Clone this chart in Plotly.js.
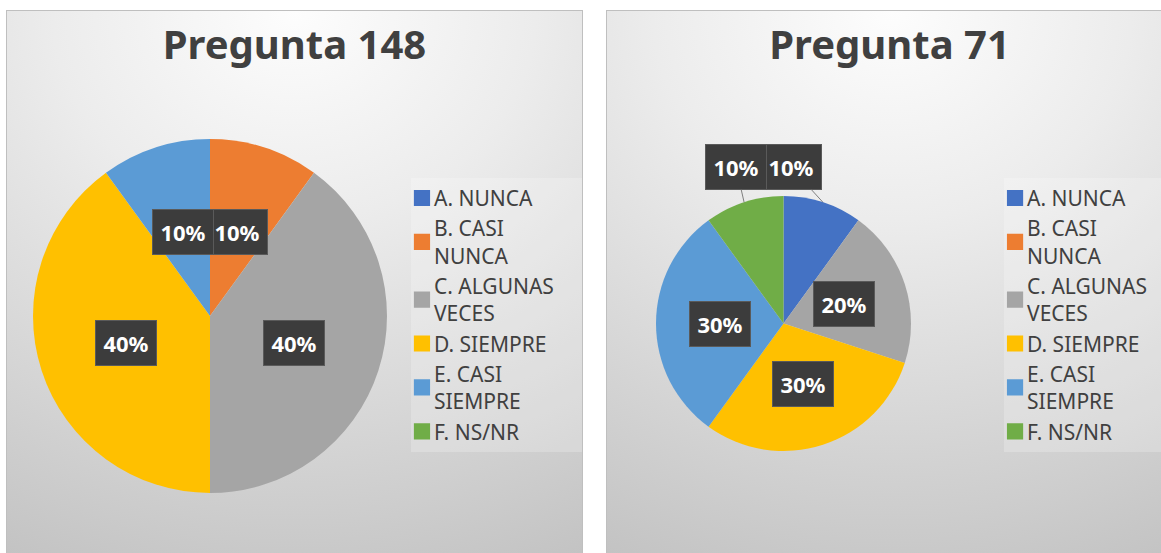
<!DOCTYPE html>
<html>
<head>
<meta charset="utf-8">
<script src="https://cdn.plot.ly/plotly-3.0.1.min.js"></script>
<style>
  html, body { margin:0; padding:0; background:#ffffff; width:1161px; height:553px; overflow:hidden; }
  .panel { position:absolute; top:10px; height:543px; box-sizing:border-box;
           border:1px solid #bfbfbf; border-bottom:none;
           background: radial-gradient(ellipse 120% 110% at 50% 0%, #fdfdfd 0%, #ececec 35%, #d6d6d6 70%, #c3c3c3 100%); }
  .plot { position:absolute; left:0; top:0; }
</style>
</head>
<body>
<div class="panel" style="left:6px; width:577px;"><div class="plot" id="c1"></div></div>
<div class="panel" style="left:606px; width:572px;"><div class="plot" id="c2"></div></div>
<script>
// ---- data ----
const categories = ['A. NUNCA', 'B. CASI<br>NUNCA', 'C. ALGUNAS<br>VECES', 'D. SIEMPRE', 'E. CASI<br>SIEMPRE', 'F. NS/NR'];
const sliceColors = ['#4472c4', '#ed7d31', '#a5a5a5', '#ffc000', '#5b9bd5', '#70ad47'];

const title148 = 'Pregunta 148';
const values148 = [0, 10, 40, 40, 10, 0];

const title71 = 'Pregunta 71';
const values71 = [10, 0, 20, 30, 30, 10];

// ---- style ----
const FONT = 'Noto Sans, Open Sans, sans-serif';
const TEXT = '#404040';

function labelAnnotations(values, dom, W, H, outside) {
  const total = values.reduce((a, b) => a + b, 0);
  const cx = (dom.x[0] + dom.x[1]) / 2 * W;
  const cy = (dom.y[0] + dom.y[1]) / 2 * H;
  const r = Math.min((dom.x[1] - dom.x[0]) * W, (dom.y[1] - dom.y[0]) * H) / 2;
  const anns = [];
  let cum = 0;
  values.forEach((v, i) => {
    const a = 2 * Math.PI * (cum + v / 2) / total;
    cum += v;
    if (v <= 0) return;
    const pct = Math.round(v / total * 100) + '%';
    const off = outside[i];
    const k = off ? 1 : 0.5;
    const px = cx + k * r * Math.sin(a);
    const py = cy + k * r * Math.cos(a);
    const ann = {
      xref: 'paper', yref: 'paper', x: px / W, y: py / H,
      text: '<b>' + pct + '</b>',
      font: { family: FONT, size: 22, color: '#ffffff' },
      bgcolor: '#3c3c3c', bordercolor: '#5a5a5a', borderwidth: 1,
      width: 46, height: 30, borderpad: 7,
      xanchor: 'center', yanchor: 'middle'
    };
    if (off) {
      Object.assign(ann, { showarrow: true, arrowhead: 0, arrowwidth: 1, arrowcolor: '#7f7f7f',
                           ax: off[0], ay: off[1], standoff: 0 });
    } else {
      ann.showarrow = false;
    }
    anns.push(ann);
  });
  return anns;
}

function makeChart(id, W, H, title, titleX, values, dom, legendX, outside) {
  const trace = {
    type: 'pie', labels: categories, values: values, sort: false,
    direction: 'clockwise', rotation: 0, domain: dom,
    marker: { colors: sliceColors, line: { width: 0 } },
    textinfo: 'none', hoverinfo: 'skip'
  };
  const layout = {
    width: W, height: H,
    margin: { l: 0, r: 0, t: 0, b: 0 },
    paper_bgcolor: 'rgba(0,0,0,0)', plot_bgcolor: 'rgba(0,0,0,0)',
    title: { text: title, x: titleX, xanchor: 'center', y: 0.937, yanchor: 'middle',
             yref: 'container', xref: 'container',
             font: { family: FONT, size: 40, color: TEXT, weight: 'bold' } },
    showlegend: true,
    legend: { x: legendX, xanchor: 'left', y: 0.6922, yanchor: 'top',
              bgcolor: 'rgba(255,255,255,0.22)', borderwidth: 0,
              font: { family: FONT, size: 21, color: TEXT }, itemwidth: 30 },
    annotations: labelAnnotations(values, dom, W, H, outside)
  };
  return Plotly.newPlot(id, [trace], layout, { displayModeBar: false, staticPlot: true }).then(gd => {
    gd.querySelectorAll('.legendpoints path').forEach(p =>
      p.setAttribute('transform', 'translate(28,0) scale(1.35)'));
    // legend background box: starts just left of the symbols, runs to the panel edge
    const bg = gd.querySelector('.legend rect.bg');
    if (bg) {
      const legendLeft = legendX * W;
      bg.setAttribute('x', 17);
      bg.setAttribute('width', Math.max(0, W - legendLeft - 17));
    }
    return gd;
  });
}

makeChart('c1', 575, 542, title148, 0.5, values148,
  { x: [0.04522, 0.66087], y: [0.1107, 0.7638] }, 0.673, {});

makeChart('c2', 554, 542, title71, 0.51, values71,
  { x: [0.08845, 0.54874], y: [0.18819, 0.65867] }, 0.686,
  { 0: [-32, -35], 5: [-8, -35] });
</script>
</body>
</html>
